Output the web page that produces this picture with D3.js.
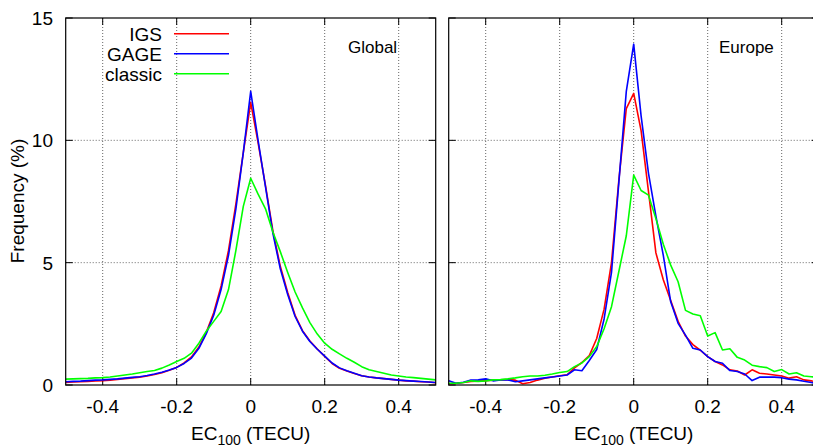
<!DOCTYPE html>
<html>
<head>
<meta charset="utf-8">
<script src="https://cdn.jsdelivr.net/npm/d3@7"></script>
<style>
  body { margin: 0; background: #fff; }
  svg text { font-family: "Liberation Sans", Arial, Helvetica, sans-serif; fill: #000; }
</style>
</head>
<body>
<svg id="chart" width="813" height="447"></svg>
<script>
// EC100 bins (TECU)
const ec = [-0.5, -0.48, -0.46, -0.44, -0.42, -0.4, -0.38, -0.36, -0.34, -0.32,
  -0.3, -0.28, -0.26, -0.24, -0.22, -0.2, -0.18, -0.16, -0.14, -0.12,
  -0.1, -0.08, -0.06, -0.04, -0.02, 0, 0.02, 0.04, 0.06, 0.08,
  0.1, 0.12, 0.14, 0.16, 0.18, 0.2, 0.22, 0.24, 0.26, 0.28,
  0.3, 0.32, 0.34, 0.36, 0.38, 0.4, 0.42, 0.44, 0.46, 0.48, 0.5];

// Global panel
const globalIGS = [0.1, 0.12, 0.13, 0.15, 0.17, 0.18, 0.2, 0.23, 0.26, 0.29,
  0.32, 0.37, 0.43, 0.5, 0.6, 0.72, 0.9, 1.15, 1.55, 2.15,
  2.95, 4.05, 5.5, 7.4, 9.5, 11.55, 9.9, 8.15, 6.3, 4.85,
  3.78, 2.85, 2.22, 1.8, 1.47, 1.17, 0.88, 0.68, 0.57, 0.47,
  0.38, 0.33, 0.29, 0.26, 0.23, 0.2, 0.17, 0.16, 0.13, 0.12, 0.09];
const globalGAGE = [0.13, 0.15, 0.16, 0.18, 0.2, 0.21, 0.23, 0.25, 0.28, 0.31,
  0.34, 0.39, 0.45, 0.52, 0.61, 0.72, 0.88, 1.1, 1.5, 2.1,
  2.85, 3.9, 5.3, 7.2, 9.5, 12.0, 10.0, 8.1, 6.2, 4.75,
  3.7, 2.8, 2.2, 1.78, 1.46, 1.18, 0.9, 0.7, 0.58, 0.48,
  0.38, 0.33, 0.29, 0.26, 0.23, 0.2, 0.18, 0.16, 0.14, 0.12, 0.1];
const globalClassic = [0.24, 0.25, 0.26, 0.27, 0.29, 0.3, 0.33, 0.37, 0.41, 0.45,
  0.5, 0.55, 0.59, 0.69, 0.82, 0.96, 1.09, 1.3, 1.71, 2.2,
  2.6, 3.0, 3.9, 5.5, 7.3, 8.45, 7.8, 7.2, 6.25, 5.45,
  4.6, 3.8, 3.15, 2.55, 2.08, 1.71, 1.46, 1.27, 1.09, 0.93,
  0.75, 0.62, 0.55, 0.48, 0.41, 0.37, 0.33, 0.3, 0.27, 0.24, 0.21];

// Europe panel
const europeIGS = [0.05, 0.07, 0.1, 0.14, 0.16, 0.18, 0.2, 0.21, 0.22, 0.2,
  0.05, 0.1, 0.2, 0.28, 0.33, 0.38, 0.42, 0.7, 0.92, 1.2,
  1.9, 3.1, 5.0, 8.4, 11.3, 11.92, 10.4, 7.9, 5.4, 4.3,
  3.45, 2.6, 2.0, 1.65, 1.42, 1.16, 0.96, 0.82, 0.62, 0.57,
  0.41, 0.62, 0.48, 0.45, 0.41, 0.37, 0.28, 0.34, 0.21, 0.17, 0.1];
const europeGAGE = [0.17, 0.07, 0.11, 0.2, 0.21, 0.25, 0.17, 0.21, 0.21, 0.13,
  0.17, 0.21, 0.25, 0.29, 0.33, 0.37, 0.41, 0.62, 0.58, 1.0,
  1.45, 2.7, 4.6, 8.3, 12.0, 13.93, 11.0, 8.65, 6.9, 5.3,
  3.4, 2.52, 2.04, 1.5, 1.43, 1.16, 0.96, 0.89, 0.59, 0.55,
  0.45, 0.18, 0.32, 0.32, 0.32, 0.3, 0.24, 0.21, 0.15, 0.1, 0.05];
const europeClassic = [0.07, 0.07, 0.1, 0.17, 0.15, 0.17, 0.21, 0.22, 0.25, 0.29,
  0.34, 0.37, 0.37, 0.4, 0.45, 0.51, 0.55, 0.75, 0.9, 1.16,
  1.57, 2.3, 3.2, 4.65, 6.1, 8.58, 7.95, 7.76, 6.8, 5.75,
  4.9, 4.22, 3.05, 2.9, 2.83, 2.0, 2.14, 1.43, 1.48, 1.13,
  1.02, 0.81, 0.75, 0.71, 0.55, 0.63, 0.45, 0.5, 0.37, 0.34, 0.3];

const seriesNames = ["IGS", "GAGE", "classic"];
const seriesColors = ["#ff0000", "#0000ff", "#00ff00"];
const xTicks = [-0.4, -0.2, 0, 0.2, 0.4];
const yTicks = [0, 5, 10, 15];

const svg = d3.select("#chart");
const plotTop = 18, plotBottom = 385, panelW = 370;
const y = d3.scaleLinear().domain([0, 15]).range([plotBottom, plotTop]);

function drawPanel(x0, title, data, showY, showLegend) {
  const x = d3.scaleLinear().domain([-0.5, 0.5]).range([x0, x0 + panelW]);
  const g = svg.append("g");

  // dotted grid
  g.selectAll(".gx").data(xTicks).enter().append("line")
    .attr("x1", d => x(d)).attr("x2", d => x(d))
    .attr("y1", plotTop).attr("y2", plotBottom)
    .attr("stroke", "#666").attr("stroke-width", 1).attr("stroke-dasharray", "1,2");
  g.selectAll(".gy").data([5, 10]).enter().append("line")
    .attr("x1", x0).attr("x2", x0 + panelW)
    .attr("y1", d => y(d)).attr("y2", d => y(d))
    .attr("stroke", "#666").attr("stroke-width", 1).attr("stroke-dasharray", "1,2");

  // inward tick marks, mirrored
  const tl = 7;
  g.selectAll(".tb").data(xTicks).enter().append("line")
    .attr("x1", d => x(d)).attr("x2", d => x(d))
    .attr("y1", plotBottom).attr("y2", plotBottom - tl).attr("stroke", "#000");
  g.selectAll(".tt").data(xTicks).enter().append("line")
    .attr("x1", d => x(d)).attr("x2", d => x(d))
    .attr("y1", plotTop).attr("y2", plotTop + tl).attr("stroke", "#000");
  g.selectAll(".tyl").data(yTicks).enter().append("line")
    .attr("x1", x0).attr("x2", x0 + tl)
    .attr("y1", d => y(d)).attr("y2", d => y(d)).attr("stroke", "#000");
  g.selectAll(".tyr").data(yTicks).enter().append("line")
    .attr("x1", x0 + panelW).attr("x2", x0 + panelW - tl)
    .attr("y1", d => y(d)).attr("y2", d => y(d)).attr("stroke", "#000");

  // curves
  const line = d3.line().x((d, i) => x(ec[i])).y(d => y(d));
  data.forEach((s, k) => {
    g.append("path").datum(s)
      .attr("d", line)
      .attr("fill", "none")
      .attr("stroke", seriesColors[k])
      .attr("stroke-width", 1.6)
      .attr("stroke-linejoin", "round");
  });

  // frame
  g.append("rect")
    .attr("x", x0).attr("y", plotTop)
    .attr("width", panelW).attr("height", plotBottom - plotTop)
    .attr("fill", "none").attr("stroke", "#000").attr("stroke-width", 1.2);

  // tick labels
  g.selectAll(".xl").data(xTicks).enter().append("text")
    .attr("x", d => x(d)).attr("y", 413)
    .attr("text-anchor", "middle").attr("font-size", 19)
    .text(d => d === 0 ? "0" : d.toString());
  if (showY) {
    g.selectAll(".yl").data(yTicks).enter().append("text")
      .attr("x", 53).attr("y", d => y(d) + 7)
      .attr("text-anchor", "end").attr("font-size", 19)
      .text(d => d);
  }

  // x label with subscript
  const xl = g.append("text")
    .attr("x", x(0)).attr("y", 440)
    .attr("text-anchor", "middle").attr("font-size", 19);
  xl.append("tspan").text("EC");
  xl.append("tspan").attr("font-size", 14).attr("dy", 5).text("100");
  xl.append("tspan").attr("dy", -5).text(" (TECU)");

  // panel title
  g.append("text")
    .attr("x", title === "Global" ? 348 : 719).attr("y", 53)
    .attr("font-size", 17).text(title);

  if (showLegend) {
    seriesNames.forEach((n, k) => {
      const ly = 33.7 + k * 20;
      g.append("text").attr("x", 162).attr("y", ly + 7)
        .attr("text-anchor", "end").attr("font-size", 19).text(n);
      g.append("line").attr("x1", 174).attr("x2", 229)
        .attr("y1", ly).attr("y2", ly)
        .attr("stroke", seriesColors[k]).attr("stroke-width", 1.6);
    });
  }
}

drawPanel(65.7, "Global", [globalIGS, globalGAGE, globalClassic], true, true);
drawPanel(448.7, "Europe", [europeIGS, europeGAGE, europeClassic], false, false);

svg.append("text")
  .attr("transform", "translate(24,201) rotate(-90)")
  .attr("text-anchor", "middle").attr("font-size", 19)
  .text("Frequency (%)");
</script>
</body>
</html>
